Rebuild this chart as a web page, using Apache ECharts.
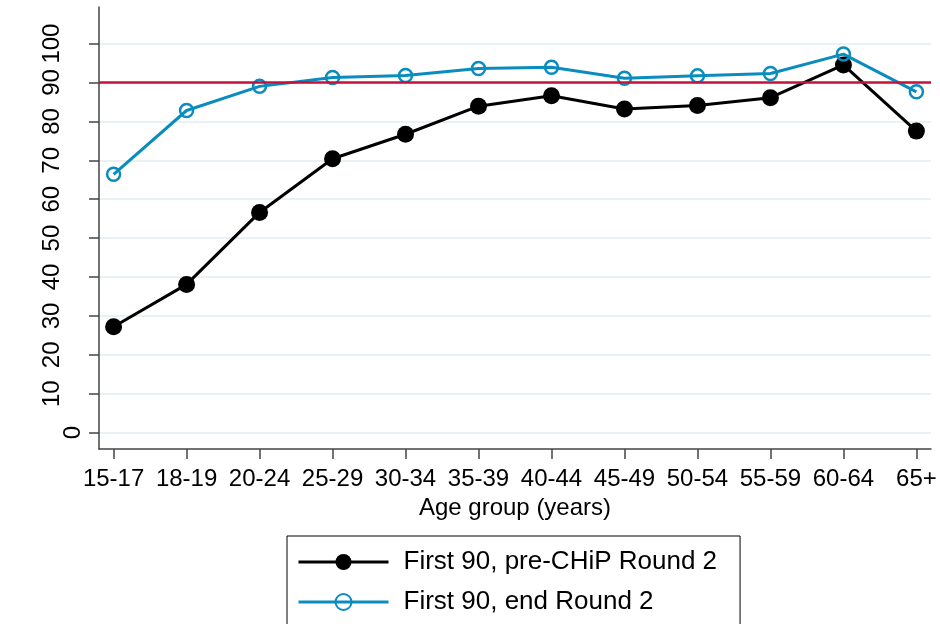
<!DOCTYPE html>
<html>
<head>
<meta charset="utf-8">
<script src="https://cdn.jsdelivr.net/npm/echarts@6/dist/echarts.min.js"></script>
<style>
html, body { margin: 0; padding: 0; background: #fff; }
#chart { width: 940px; height: 624px; }
</style>
</head>
<body>
<div id="chart"></div>
<script>
// age groups on the x axis
const ageGroups = ['15-17', '18-19', '20-24', '25-29', '30-34', '35-39', '40-44', '45-49', '50-54', '55-59', '60-64', '65+'];
// first 90 (%) before CHiP round 2
const preChip = [27.2, 38.1, 56.6, 70.4, 76.7, 83.9, 86.6, 83.2, 84.1, 86.1, 94.5, 77.5];
// first 90 (%) at end of round 2
const endRound = [66.4, 82.8, 89.0, 91.3, 91.8, 93.6, 93.9, 91.1, 91.7, 92.3, 97.3, 87.6];
const yTicks = [0, 10, 20, 30, 40, 50, 60, 70, 80, 90, 100];
const target = 90;

const seriesNames = ['First 90, pre-CHiP Round 2', 'First 90, end Round 2'];
const font = 'Liberation Sans, Arial, sans-serif';
const axisColor = '#444';

let myChart = echarts.init(document.getElementById('chart'));
myChart.setOption({
  animation: false,
  textStyle: { fontFamily: font },
  grid: { left: 99, right: 9, top: 7, bottom: 175, containLabel: false },
  xAxis: {
    type: 'value',
    min: -0.2,
    max: 11.2,
    name: 'Age group (years)',
    nameLocation: 'middle',
    nameGap: 46,
    nameTextStyle: { fontSize: 24, color: '#000', fontFamily: font },
    axisLine: { onZero: false, lineStyle: { color: axisColor, width: 1.5 } },
    axisTick: { show: true, length: 10, customValues: ageGroups.map((g, i) => i), lineStyle: { color: axisColor, width: 1.5 } },
    axisLabel: {
      customValues: ageGroups.map((g, i) => i),
      formatter: v => ageGroups[v],
      fontSize: 24, color: '#000', margin: 18, fontFamily: font
    },
    splitLine: { show: false }
  },
  yAxis: {
    type: 'value',
    min: -4.2,
    max: 109.4,
    axisLine: { show: true, onZero: false, lineStyle: { color: axisColor, width: 1.5 } },
    axisTick: { show: true, length: 10, customValues: yTicks, lineStyle: { color: axisColor, width: 1.5 } },
    axisLabel: {
      customValues: yTicks,
      rotate: 90,
      margin: 14,
      fontSize: 24, color: '#000', fontFamily: font,
      //0 sits closer to the axis than the other labels
      formatter: v => v === 0 ? '{z|0}' : '{n|' + v + '}',
      rich: {
        z: { fontSize: 24, padding: [0, 0, 0, 0] },
        n: { fontSize: 24, padding: [0, 0, 21, 0] }
      }
    },
    splitLine: { show: true, lineStyle: { color: '#e9f1f4', width: 2 } }
  },
  legend: {
    data: seriesNames,
    orient: 'vertical',
    left: 287,
    top: 536,
    height: 140,
    itemWidth: 90,
    itemHeight: 20,
    itemGap: 14,
    padding: [13, 23, 20, 10],
    borderColor: '#000',
    borderWidth: 1,
    lineStyle: { width: 3 },
    textStyle: { fontSize: 26, color: '#000', fontFamily: font, padding: [0, 0, 0, 10] }
  },
  series: [
    {
      name: seriesNames[0],
      type: 'line',
      data: ageGroups.map((g, i) => [i, preChip[i]]),
      symbol: 'circle',
      symbolSize: 17,
      lineStyle: { color: '#000', width: 3 },
      itemStyle: { color: '#000' },
      markLine: {
        silent: true,
        symbol: 'none',
        label: { show: false },
        lineStyle: { color: '#c8103a', width: 2.5, type: 'solid' },
        data: [{ yAxis: target }]
      }
    },
    {
      name: seriesNames[1],
      type: 'line',
      data: ageGroups.map((g, i) => [i, endRound[i]]),
      symbol: 'circle',
      symbolSize: 13,
      lineStyle: { color: '#0a8cbf', width: 3 },
      itemStyle: { color: 'rgba(255,255,255,0)', borderColor: '#0a8cbf', borderWidth: 2.5 }
    }
  ]
});
</script>
</body>
</html>
